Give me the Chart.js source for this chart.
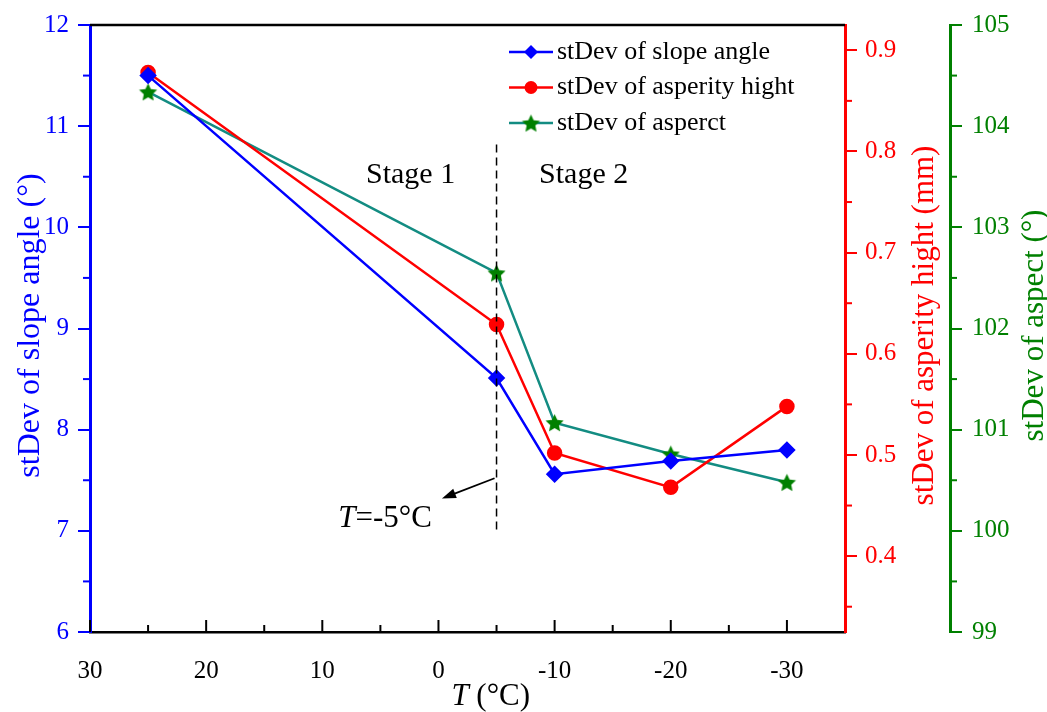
<!DOCTYPE html>
<html>
<head>
<meta charset="utf-8">
<script src="https://cdn.jsdelivr.net/npm/chart.js@4.4.1/dist/chart.umd.min.js"></script>
<style>
  html, body { margin: 0; padding: 0; background: #fff; }
  canvas { display: block; }
</style>
</head>
<body>
<canvas id="chart" width="1047" height="712"></canvas>
<script>
// values
var temps = [25, -5, -10, -20, -30];
var slopeSd = [11.50, 8.51, 7.56, 7.69, 7.80];
var heightSd = [0.878, 0.629, 0.502, 0.468, 0.548];
var aspectSd = [104.34, 102.55, 101.07, 100.76, 100.48];

var xTicks = [30, 20, 10, 0, -10, -20, -30];
var slopeTicks = [6, 7, 8, 9, 10, 11, 12];
var heightTicks = [0.4, 0.5, 0.6, 0.7, 0.8, 0.9];
var aspectTicks = [99, 100, 101, 102, 103, 104, 105];

var FONT = "'Liberation Serif', 'Times New Roman', serif";
var BLUE = "#0000ff", RED = "#ff0000", GREEN = "#008000", TEAL = "#138c82";

function pts(xs, ys) {
    return xs.map(function (x, i) { return { x: x, y: ys[i] }; });
}

function makeStar(r, color) {
    var s = Math.ceil(r * 2) + 2;
    var c = document.createElement("canvas");
    c.width = s; c.height = s;
    var g = c.getContext("2d");
    g.fillStyle = color;
    g.beginPath();
    for (var i = 0; i < 10; i++) {
        var rr = i % 2 ? r * 0.48 : r;
        var a = -Math.PI / 2 + i * Math.PI / 5;
        g.lineTo(s / 2 + rr * Math.cos(a), s / 2 + 1 + rr * Math.sin(a));
    }
    g.closePath();
    g.fill();
    return c;
}
var star = makeStar(9.5, GREEN);

function fixTicks(list) {
    return function (scale) {
        scale.ticks = list.map(function (v) { return { value: v }; });
    };
}

// minor ticks, inward x ticks, frame top, annotations, titles, legend
var decorations = {
    id: "decorations",
    afterDraw: function (chart) {
        var ctx = chart.ctx, a = chart.chartArea, s = chart.scales;
        var x = s.x, yL = s.ySlope, yR = s.yHeight, yG = s.yAspect;
        ctx.save();
        ctx.lineCap = "butt";

        // top frame
        ctx.strokeStyle = "#000";
        ctx.lineWidth = 2.5;
        ctx.beginPath();
        ctx.moveTo(a.left, a.top);
        ctx.lineTo(a.right, a.top);
        ctx.stroke();

        // x ticks, pointing inward
        ctx.lineWidth = 2;
        for (var v = 30; v >= -30; v -= 5) {
            var px = x.getPixelForValue(v);
            var len = v % 10 === 0 ? 12 : 7;
            ctx.beginPath();
            ctx.moveTo(px, a.bottom);
            ctx.lineTo(px, a.bottom - len);
            ctx.stroke();
        }

        // minor y ticks
        function minor(scale, vals, x0, dir, color) {
            ctx.strokeStyle = color;
            ctx.lineWidth = 2;
            vals.forEach(function (v) {
                var py = scale.getPixelForValue(v);
                ctx.beginPath();
                ctx.moveTo(x0, py);
                ctx.lineTo(x0 + dir * 7, py);
                ctx.stroke();
            });
        }
        minor(yL, [6.5, 7.5, 8.5, 9.5, 10.5, 11.5], a.left, -1, BLUE);
        minor(yR, [0.35, 0.45, 0.55, 0.65, 0.75, 0.85], a.right, 1, RED);
        minor(yG, [99.5, 100.5, 101.5, 102.5, 103.5, 104.5], yG.left, 1, GREEN);

        // dashed line at T = -5
        var dx = x.getPixelForValue(-5);
        ctx.strokeStyle = "#000";
        ctx.lineWidth = 1.5;
        ctx.setLineDash([8, 5]);
        ctx.beginPath();
        ctx.moveTo(dx, yL.getPixelForValue(10.82));
        ctx.lineTo(dx, yL.getPixelForValue(6.97));
        ctx.stroke();
        ctx.setLineDash([]);

        // arrow to the dashed line label
        var ax0 = dx - 2, ay0 = yL.getPixelForValue(7.52);
        var ax1 = x.getPixelForValue(-0.3), ay1 = yL.getPixelForValue(7.32);
        var ang = Math.atan2(ay1 - ay0, ax1 - ax0);
        ctx.lineWidth = 1.8;
        ctx.beginPath();
        ctx.moveTo(ax0, ay0);
        ctx.lineTo(ax1 - 8 * Math.cos(ang), ay1 - 8 * Math.sin(ang));
        ctx.stroke();
        ctx.fillStyle = "#000";
        ctx.beginPath();
        ctx.moveTo(ax1, ay1);
        ctx.lineTo(ax1 - 14 * Math.cos(ang) + 5 * Math.sin(ang), ay1 - 14 * Math.sin(ang) - 5 * Math.cos(ang));
        ctx.lineTo(ax1 - 14 * Math.cos(ang) - 5 * Math.sin(ang), ay1 - 14 * Math.sin(ang) + 5 * Math.cos(ang));
        ctx.closePath();
        ctx.fill();

        // mixed italic text helper
        function rich(parts, cx, cy, size, color) {
            ctx.fillStyle = color;
            ctx.textBaseline = "middle";
            ctx.textAlign = "left";
            var w = 0;
            parts.forEach(function (p) {
                ctx.font = (p[1] ? "italic " : "") + size + "px " + FONT;
                w += ctx.measureText(p[0]).width;
            });
            var cur = cx - w / 2;
            parts.forEach(function (p) {
                ctx.font = (p[1] ? "italic " : "") + size + "px " + FONT;
                ctx.fillText(p[0], cur, cy);
                cur += ctx.measureText(p[0]).width;
            });
        }
        rich([["T", true], ["=-5\u00b0C", false]], x.getPixelForValue(4.6), yL.getPixelForValue(7.12), 31, "#000");
        rich([["Stage 1", false]], x.getPixelForValue(2.4), yL.getPixelForValue(10.52), 30, "#000");
        rich([["Stage 2", false]], x.getPixelForValue(-12.5), yL.getPixelForValue(10.52), 30, "#000");
        rich([["T", true], [" (\u00b0C)", false]], x.getPixelForValue(-4.5), 697, 31, "#000");

        // rotated axis titles (all read bottom to top)
        function vTitle(text, cx, size, color) {
            ctx.save();
            ctx.translate(cx, (a.top + a.bottom) / 2 - 3);
            ctx.rotate(-Math.PI / 2);
            ctx.font = size + "px " + FONT;
            ctx.fillStyle = color;
            ctx.textAlign = "center";
            ctx.textBaseline = "middle";
            ctx.fillText(text, 0, 0);
            ctx.restore();
        }
        vTitle("stDev of slope angle (\u00b0)", a.left - 59, 32, BLUE);
        vTitle("stDev of asperity hight (mm)", a.right + 80, 31, RED);
        vTitle("stDev of aspect (\u00b0)", yG.left + 85, 31, GREEN);

        // legend, inside the plot area
        var lx = 509, ly = 52;
        chart.data.datasets.forEach(function (ds, i) {
            var yy = ly + i * 35.5;
            var mx = lx + 22;
            ctx.strokeStyle = ds.borderColor;
            ctx.lineWidth = 2.5;
            ctx.beginPath();
            ctx.moveTo(lx, yy);
            ctx.lineTo(lx + 44, yy);
            ctx.stroke();
            if (typeof ds.pointStyle === "string") {
                var r = ds.pointRadius;
                ctx.fillStyle = ds.pointBackgroundColor;
                ctx.beginPath();
                if (ds.pointStyle === "circle") {
                    ctx.arc(mx, yy, r, 0, Math.PI * 2);
                } else {
                    ctx.moveTo(mx, yy - r); ctx.lineTo(mx + r, yy);
                    ctx.lineTo(mx, yy + r); ctx.lineTo(mx - r, yy);
                }
                ctx.closePath();
                ctx.fill();
            } else {
                Chart.helpers.drawPoint(ctx, { pointStyle: ds.pointStyle, radius: ds.pointRadius, borderWidth: 0, rotation: 0 }, mx, yy);
            }
            ctx.fillStyle = "#000";
            ctx.font = "26px " + FONT;
            ctx.textAlign = "left";
            ctx.textBaseline = "middle";
            ctx.fillText(ds.label, lx + 48, yy);
        });

        ctx.restore();
    }
};

var ctx1 = document.getElementById("chart").getContext("2d");
var myChart = new Chart(ctx1, {
    type: "line",
    data: {
        datasets: [{
            label: "stDev of slope angle",
            data: pts(temps, slopeSd),
            yAxisID: "ySlope",
            borderColor: BLUE,
            backgroundColor: BLUE,
            pointBackgroundColor: BLUE,
            pointBorderColor: BLUE,
            pointStyle: "rectRot",
            pointRadius: 7,
            borderWidth: 2.5
        }, {
            label: "stDev of asperity hight",
            data: pts(temps, heightSd),
            yAxisID: "yHeight",
            borderColor: RED,
            backgroundColor: RED,
            pointBackgroundColor: RED,
            pointBorderColor: RED,
            pointStyle: "circle",
            pointRadius: 6.5,
            borderWidth: 2.5
        }, {
            label: "stDev of asperct",
            data: pts(temps, aspectSd),
            yAxisID: "yAspect",
            borderColor: TEAL,
            backgroundColor: GREEN,
            pointBackgroundColor: GREEN,
            pointBorderColor: GREEN,
            pointStyle: star,
            pointRadius: 9.5,
            borderWidth: 2.5
        }]
    },
    options: {
        responsive: false,
        animation: false,
        devicePixelRatio: 1,
        layout: { padding: { top: 21, left: 0, right: 0, bottom: 0 } },
        plugins: { legend: { display: false }, tooltip: { enabled: false } },
        elements: { line: { tension: 0 }, point: { borderWidth: 0 } },
        scales: {
            x: {
                type: "linear",
                reverse: true,
                min: -35,
                max: 30,
                afterBuildTicks: fixTicks(xTicks),
                afterFit: function (s) { s.height = 80; },
                grid: { display: false, drawTicks: false },
                border: { display: true, color: "#000", width: 2.5 },
                ticks: { color: "#000", padding: 24, maxRotation: 0, font: { family: FONT, size: 25 } }
            },
            ySlope: {
                type: "linear",
                position: "left",
                min: 6,
                max: 12,
                afterBuildTicks: fixTicks(slopeTicks),
                afterFit: function (s) { s.width = 90; },
                grid: { drawOnChartArea: false, drawTicks: true, tickLength: 12, color: BLUE, lineWidth: 2 },
                border: { display: true, color: BLUE, width: 3 },
                ticks: { color: BLUE, padding: 9, font: { family: FONT, size: 25 } }
            },
            yHeight: {
                type: "linear",
                position: "right",
                weight: 0,
                min: 0.325,
                max: 0.925,
                afterBuildTicks: fixTicks(heightTicks),
                afterFit: function (s) { s.width = 105; },
                grid: { drawOnChartArea: false, drawTicks: true, tickLength: 12, color: RED, lineWidth: 2 },
                border: { display: true, color: RED, width: 3 },
                ticks: {
                    color: RED, padding: 8, font: { family: FONT, size: 25 },
                    callback: function (v) { return v.toFixed(1); }
                }
            },
            yAspect: {
                type: "linear",
                position: "right",
                weight: 1,
                min: 99,
                max: 105,
                afterBuildTicks: fixTicks(aspectTicks),
                afterFit: function (s) { s.width = 97; },
                grid: { drawOnChartArea: false, drawTicks: true, tickLength: 12, color: GREEN, lineWidth: 2 },
                border: { display: true, color: GREEN, width: 3 },
                ticks: { color: GREEN, padding: 10, font: { family: FONT, size: 25 } }
            }
        }
    },
    plugins: [decorations]
});
</script>
</body>
</html>
